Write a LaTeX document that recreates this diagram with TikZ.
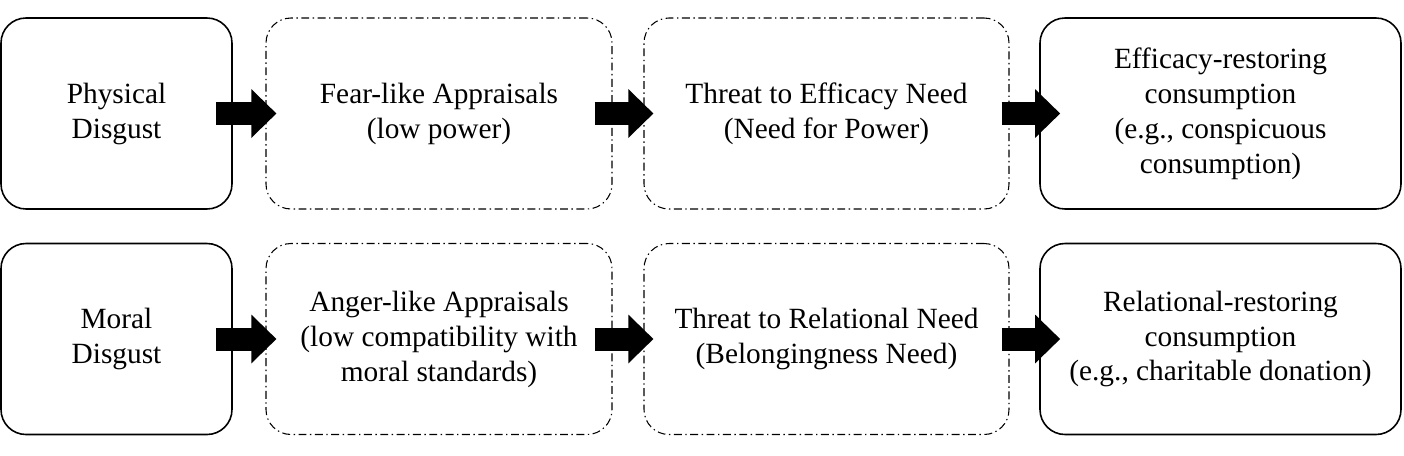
\documentclass[tikz,border=0pt]{standalone}
\usepackage{fontspec}
\setmainfont{Liberation Serif}
\usetikzlibrary{positioning, arrows.meta}
\tikzset{
    every node/.style={align=center, font=\fontsize{16.7}{19.9}\selectfont}, % Text in all boxes
    solidbox/.style={draw, line width=0.9pt, rounded corners=0.5cm, minimum height=3.82cm}, % Emotion and outcome boxes
    dotbox/.style={draw, line width=0.6pt, rounded corners=0.5cm, minimum height=3.82cm,
        dash pattern=on 4.5pt off 2pt on 0.8pt off 2pt}, % Mediating boxes
    blockarrow/.style={line width=0.46cm, -{Triangle[length=0.5cm, width=0.94cm]}}, % Fat arrows
}
\begin{document}
\begin{tikzpicture}
  \useasboundingbox (0,0) rectangle (28.08,-9.12);

  % physical disgust path
  \node[solidbox, minimum width=4.62cm] (n1) at (2.33,-2.27) {Physical\\Disgust};
  \node[dotbox, minimum width=6.92cm] (n2) at (8.78,-2.27) {Fear-like Appraisals\\(low power)};
  \node[dotbox, minimum width=7.30cm] (n3) at (16.53,-2.27) {Threat to Efficacy Need\\(Need for Power)};
  \node[solidbox, minimum width=7.22cm] (n4) at (24.41,-2.27) {Efficacy-restoring\\consumption\\(e.g., conspicuous\\consumption)};
  \draw[blockarrow, shorten <=-0.34cm, shorten >=-0.22cm] (n1) -- (n2);
  \draw[blockarrow, shorten <=-0.36cm, shorten >=-0.2cm] (n2) -- (n3);
  \draw[blockarrow, shorten <=-0.16cm, shorten >=-0.42cm] (n3) -- (n4);

  % moral disgust path
  \node[solidbox, minimum width=4.62cm] (n5) at (2.33,-6.78) {Moral\\Disgust};
  \node[dotbox, minimum width=6.92cm] (n6) at (8.78,-6.78) {Anger-like Appraisals\\(low compatibility with\\moral standards)};
  \node[dotbox, minimum width=7.30cm] (n7) at (16.53,-6.78) {Threat to Relational Need\\(Belongingness Need)};
  \node[solidbox, minimum width=7.22cm] (n8) at (24.41,-6.78) {Relational-restoring\\consumption\\(e.g., charitable donation)};
  \draw[blockarrow, shorten <=-0.34cm, shorten >=-0.22cm] (n5) -- (n6);
  \draw[blockarrow, shorten <=-0.36cm, shorten >=-0.2cm] (n6) -- (n7);
  \draw[blockarrow, shorten <=-0.16cm, shorten >=-0.42cm] (n7) -- (n8);
\end{tikzpicture}
\end{document}
